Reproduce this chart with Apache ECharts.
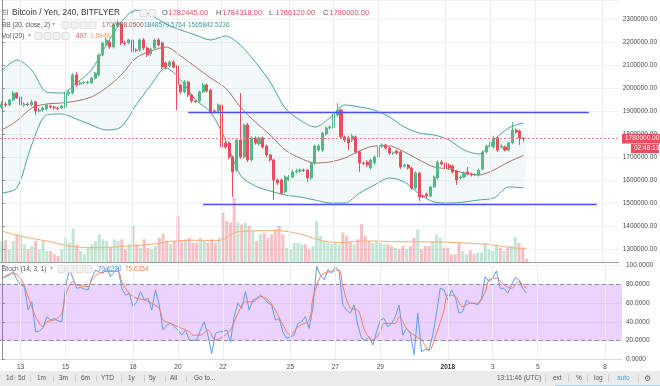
<!DOCTYPE html>
<html>
<head>
<meta charset="utf-8">
<script src="https://cdn.jsdelivr.net/npm/echarts@6/dist/echarts.min.js"></script>
<style>
html,body{margin:0;padding:0;background:#ffffff;}
#chart{width:660px;height:386px;}
</style>
</head>
<body>
<div id="chart"></div>
<script>
// ===== DATA (prices in thousands of JPY, 240-minute candles from 12 Dec 2017 04:00) =====
const CATEGORY_COUNT = 166;
const opens = [1917,1930,1926,1948,1978,1961,1926,1930,1926,1939,
1900,1904,1909,1922,1917,1913,1913,1917,1974,1978,
2057,2017,2022,2022,2022,2043,2057,2143,2187,2200,
2178,2270,2278,2196,2196,2209,2165,2165,2209,2174,
2148,2174,2209,2196,2109,2096,2113,2096,2013,1983,
2026,1970,1943,1943,1983,2013,1991,1900,1900,1926,
1761,1761,1700,1643,1774,1700,1839,1687,1783,1757,
1783,1748,1709,1687,1600,1600,1548,1600,1613,1635,
1639,1643,1643,1609,1674,1730,1730,1800,1826,1826,
1883,1904,1787,1783,1774,1787,1722,1674,1678,1652,
1674,1700,1748,1752,1739,1717,1726,1722,1661,1665,
1652,1565,1630,1530,1539,1530,1570,1609,1678,1674,
1665,1661,1639,1609,1613,1635,1626,1622,1622,1648,
1722,1748,1743,1783,1743,1743,1730,1761,1817,1813,
1782.445];
const closes = [1930,1926,1948,1978,1957,1926,1930,1928,1939,1900,
1904,1913,1926,1917,1913,1911,1922,1978,1983,2057,
2013,2022,2024,2026,2043,2065,2143,2196,2209,2178,
2274,2283,2196,2193,2209,2157,2164,2209,2174,2143,
2170,2209,2187,2091,2091,2113,2091,2013,1983,2026,
1970,1943,1941,1983,2013,1987,1896,1899,1926,1743,
1743,1700,1635,1774,1700,1839,1687,1783,1761,1783,
1743,1709,1687,1600,1587,1543,1613,1613,1635,1639,
1643,1641,1609,1674,1748,1748,1804,1826,1830,1887,
1904,1787,1774,1761,1791,1722,1674,1672,1665,1687,
1700,1743,1752,1739,1717,1718,1717,1657,1665,1652,
1565,1630,1526,1529,1530,1570,1613,1678,1670,1652,
1652,1635,1600,1613,1630,1626,1622,1624,1643,1722,
1748,1761,1783,1730,1748,1730,1761,1817,1809,1783,
1780.000];
const lows = [1909,1917,1921,1943,1952,1870,1917,1921,1920,1883,
1893,1898,1902,1911,1906,1904,1907,1911,1965,1972,
2006,2010,2015,2016,2017,2037,2050,2138,2180,2170,
2172,2262,2187,2185,2190,2022,2155,2158,2165,2135,
2140,2168,2180,2084,2082,2089,2085,1904,1975,1976,
1961,1935,1935,1937,1978,1980,1889,1891,1893,1613,
1735,1690,1526,1635,1692,1693,1678,1680,1754,1750,
1737,1700,1680,1513,1578,1535,1540,1595,1607,1628,
1632,1635,1591,1600,1667,1724,1722,1793,1820,1820,
1876,1780,1765,1730,1765,1715,1635,1665,1656,1645,
1667,1693,1740,1732,1710,1709,1710,1648,1654,1645,
1557,1558,1509,1522,1522,1524,1565,1602,1663,1645,
1646,1628,1578,1602,1607,1620,1615,1616,1615,1641,
1715,1741,1737,1722,1736,1724,1724,1755,1802,1752,
1766.120];
const highs = [1943,1939,1952,1987,1983,1965,1939,1937,1948,1945,
1913,1920,1932,1928,1922,1919,1926,1983,1991,2065,
2070,2030,2030,2032,2048,2070,2150,2202,2218,2210,
2282,2296,2287,2205,2215,2215,2172,2215,2217,2180,
2176,2215,2217,2202,2115,2120,2120,2100,2017,2035,
2032,1974,1950,1989,2022,2020,1997,1907,1932,1932,
1770,1767,1706,1780,1978,1845,1848,1790,1790,1789,
1790,1754,1713,1692,1606,1606,1620,1622,1645,1648,
1650,1650,1648,1680,1754,1757,1810,1833,1839,1895,
1935,1911,1793,1790,1800,1793,1728,1680,1685,1693,
1706,1750,1760,1758,1745,1724,1732,1728,1672,1670,
1657,1637,1635,1537,1545,1576,1620,1685,1687,1680,
1672,1667,1645,1620,1637,1657,1632,1630,1650,1728,
1754,1767,1791,1789,1755,1750,1767,1852,1824,1819,
1784.318];
const volumes = [2940,3040,1780,2940,3880,3880,2480,1780,2240,2940,
1780,2940,1540,1540,1080,840,1780,3400,2700,4660,
2480,1540,1080,2000,2480,2940,3880,3180,2940,2000,
3180,2940,3180,1780,2480,5040,2480,2000,3180,2000,
1780,2240,3400,3960,2940,2480,2940,6440,2940,3180,
3400,2700,2700,3400,2940,2700,3180,2700,3400,6900,
5740,5500,9000,5500,5280,5500,5040,4340,2940,3880,
4100,3400,3880,4580,5040,3880,2000,1780,2700,2700,
2480,2480,1780,2240,5740,3640,2940,2700,2480,2700,
2480,4100,3640,2940,2480,3180,5280,3640,2940,2700,
2940,2700,2480,2480,2240,2000,1780,2240,1780,2240,
3400,4580,1780,2240,2240,2940,3880,3400,2000,2000,
1080,1080,2700,1540,1080,1640,1080,1300,1300,2700,
1780,1540,2240,2000,1540,2000,2240,3500,2700,2000,
497];
const volMAIdx = [0,6,12,18,25,34,40,46,53,58,62,66,73,80,84,90,97,106,117,122,129,133,137,140];
const volMAVal = [4340,3500,2940,2240,2000,2240,2480,2940,3040,3000,4100,4340,4400,3880,3180,2700,2940,2850,2800,2700,2480,2240,1950,1894];

const bbIdx = [0,4,8,12,16,20,24,28,32,36,40,44,48,52,56,60,64,68,72,76,80,84,88,92,96,100,104,108,112,116,120,124,128,132,136,140];
const bbUpper = [2073.9,2121.7,2078.2,1982.6,1978.2,2021.7,2078.2,2186.9,2286.9,2339.1,2317.4,2278.2,2252.2,2230.4,2208.7,2226.1,2186.9,2113.0,2026.1,1913.0,1860.8,1830.4,1869.5,1926.1,1917.4,1904.3,1873.9,1830.4,1804.3,1795.6,1773.9,1730.4,1713.0,1773.9,1826.1,1848.5796];
const bbMiddle = [1817.4,1856.5,1913.0,1930.4,1934.8,1943.5,1960.9,2000.0,2056.5,2130.4,2160.9,2178.2,2139.1,2091.3,2043.5,2000.0,1917.4,1852.1,1795.6,1730.4,1695.6,1673.9,1678.2,1695.6,1726.1,1747.8,1747.8,1721.7,1686.9,1656.5,1647.8,1630.4,1621.7,1643.4,1678.2,1707.2081];
const bbLower = [1543.4,1565.2,1752.1,1882.6,1887.0,1865.2,1839.1,1817.4,1830.4,1926.1,2013.0,2086.9,2034.8,1947.8,1895.6,1773.9,1621.7,1573.9,1552.1,1534.7,1526.0,1513.0,1499.9,1499.9,1543.4,1578.2,1608.7,1591.3,1539.1,1504.3,1499.9,1504.3,1513.0,1521.7,1569.5,1565.8425];

const stochK = [86.5,88,90,93.6,85,79.4,77.6,52.6,61.5,29.5,
30.2,33.8,45.5,42.0,43.7,41.0,40.2,77.6,95.4,86.5,
75.8,76.5,75.0,74.0,86.5,95.4,93.0,91.8,97.2,88.3,
93.0,97.2,75.8,68.7,70.4,56.2,61.5,72.2,63.3,65.1,
52.6,74.0,58.0,31.3,36.6,38.4,35.0,31.3,25.9,31.3,
20.6,20.6,20.6,31.3,40.2,25.9,6.3,27.7,29.5,30.0,
31.3,18.8,45.5,59.8,54.4,72.2,52.6,63.3,65.1,68.7,
65.1,60.0,58.0,42.0,43.7,29.5,22.4,24.0,25.9,38.4,
40.2,45.5,33.1,54.4,98.9,90.0,84.7,95.4,91.8,98.9,
93.6,58.0,52.6,49.1,58.0,36.6,22.4,20.6,24.2,15.3,
29.5,42.0,43.7,34.8,38.4,45.5,58.0,25.9,33.1,27.7,
5.3,49.1,8.1,11.0,9.9,25.9,49.1,75.8,74.0,63.3,
74.0,66.9,49.1,50.9,63.3,59.8,59.8,58.0,65.1,88.3,
82.9,86.5,94.3,75.8,75.8,70.4,79.4,87.2,84.7,75.8,
70.627];
const stochDIdx = [0,3,5,7,9,11,12,14,16,17,19,20,23,24,26,28,31,32,34,36,38,40,42,43,45,47,50,51,53,55,57,59,61,63,65,67,69,71,73,75,77,79,82,83,85,86,88,90,91,93,95,97,99,101,102,105,106,108,110,112,114,116,118,119,121,123,125,127,129,130,132,134,136,138,140];
const stochDVal = [86.5,91.8,86.5,66.9,45.5,34.8,40.2,42.0,49.1,68.7,82.9,79.4,77.6,84.7,91.8,93.6,93.6,82.9,70.4,65.1,63.3,59.8,54.4,42.0,38.4,34.8,29.5,25.9,25.9,31.3,20.6,24.2,31.3,49.1,61.5,61.5,66.9,63.3,52.6,36.6,25.9,34.8,42.0,65.1,88.3,91.8,93.6,95.4,77.6,54.4,52.6,29.5,20.6,29.5,38.4,38.4,45.5,33.1,25.9,20.6,9.9,27.7,52.6,68.7,66.9,56.2,59.8,59.8,72.2,84.7,86.5,79.4,75.8,82.9,75.6354];

const dayTickIndex = [5,17,35,47,59,77,89,101,119,131,143,161];
const dayTickLabels = ['13','15','18','20','22','25','27','29','2018','3','5','8'];
const levelPrices = [1894, 1494];
const levelFrom = [50, 54];
const levelTo = [157.5, 159.6];
const lastPrice = 1780;
const countdownText = '02:48:13';

// ===== CHART =====
const FONT = '"Liberation Sans", Arial, sans-serif';
const UP = '#53b987', DOWN = '#eb4d5c';
const GL = -2, GR = 38;
const cats = Array.from({length: CATEGORY_COUNT}, (_, i) => String(i));
const pairs = (idx, vals) => idx.map((x, k) => [x, vals[k]]);
const candleData = opens.map((o, i) => [o, closes[i], lows[i], highs[i]]);
const volData = volumes.map((v, i) => ({
  value: v,
  itemStyle: {color: closes[i] >= opens[i] ? 'rgba(83,185,135,0.36)' : 'rgba(235,77,92,0.36)'}
}));
const vGrid = dayTickIndex.map(x => ({xAxis: x}));
const valX = (grid) => ({type: 'value', gridIndex: grid, min: -0.5, max: CATEGORY_COUNT - 0.5, show: false});

const chart = echarts.init(document.getElementById('chart'));
const option = {
  animation: false,
  backgroundColor: '#ffffff',
  textStyle: {fontFamily: FONT},
  grid: [
    {left: GL, right: GR, top: 0, height: 262},
    {left: GL, right: GR, top: 162, height: 100},
    {left: GL, right: GR, top: 265.5, height: 94}
  ],
  xAxis: [
    {type: 'category', gridIndex: 0, data: cats, axisLabel: {show: false}, axisTick: {show: false},
     axisLine: {show: true, lineStyle: {color: '#9a9da6', width: 1}}, splitLine: {show: false}},
    valX(0),
    {type: 'category', gridIndex: 1, data: cats, show: false},
    valX(1),
    {type: 'category', gridIndex: 2, data: cats,
     axisTick: {show: false},
     axisLine: {show: true, lineStyle: {color: '#d6d9de'}},
     splitLine: {show: false},
     axisLabel: {
       show: true, margin: 4, fontSize: 6.5, color: '#4a4a4a', fontFamily: FONT,
       interval: (index) => dayTickIndex.indexOf(index) >= 0,
       formatter: (value, index) => {
         const k = dayTickIndex.indexOf(index);
         if (k < 0) return '';
         return dayTickLabels[k] === '2018' ? '{b|2018}' : dayTickLabels[k];
       },
       rich: {b: {fontWeight: 'bold', fontSize: 6.5, color: '#333', fontFamily: FONT}}
     }},
    valX(2)
  ],
  yAxis: [
    {type: 'value', gridIndex: 0, position: 'right', min: 1243.4, max: 2382.6, splitNumber: 11,
     axisLine: {show: true, lineStyle: {color: '#8d9099'}},
     axisTick: {show: true, length: 3, lineStyle: {color: '#8d9099'}},
     splitLine: {show: true, lineStyle: {color: '#eef1f6'}},
     axisLabel: {show: true, showMinLabel: false, showMaxLabel: false, margin: 4, fontSize: 6.5, color: '#4a4a4a', fontFamily: FONT,
       formatter: v => (v * 1000).toFixed(2)}},
    {type: 'value', gridIndex: 1, min: 0, max: 14000, show: false},
    {type: 'value', gridIndex: 2, position: 'right', min: 0, max: 100, interval: 20,
     axisLine: {show: true, lineStyle: {color: '#8d9099'}},
     axisTick: {show: true, length: 3, lineStyle: {color: '#8d9099'}},
     splitLine: {show: true, lineStyle: {color: '#eef1f6'}},
     axisLabel: {show: true, margin: 4, fontSize: 6.5, color: '#4a4a4a', fontFamily: FONT,
       formatter: v => v.toFixed(4)}}
  ],
  series: [
    {type: 'line', xAxisIndex: 1, yAxisIndex: 0, data: [], z: 0, silent: true,
     markLine: {silent: true, symbol: ['none', 'none'], label: {show: false},
       lineStyle: {color: '#e9eef5', type: 'solid', width: 1}, data: vGrid}},
    {type: 'custom', xAxisIndex: 1, yAxisIndex: 0, data: [0], z: 1, silent: true, clip: true,
     renderItem: (params, api) => {
       const pts = [];
       bbIdx.forEach((x, k) => pts.push(api.coord([x, bbUpper[k]])));
       for (let k = bbIdx.length - 1; k >= 0; k--) pts.push(api.coord([bbIdx[k], bbLower[k]]));
       return {type: 'polygon', shape: {points: pts, smooth: 0.3}, style: {fill: 'rgba(25,135,135,0.05)'}};
     }},
    {type: 'bar', xAxisIndex: 2, yAxisIndex: 1, data: volData, barWidth: '80%', z: 1.5, silent: true},
    {type: 'line', xAxisIndex: 3, yAxisIndex: 1, data: pairs(volMAIdx, volMAVal), smooth: 0.4, symbol: 'none',
     lineStyle: {color: '#f9ad72', width: 1}, z: 2, silent: true},
    {type: 'line', xAxisIndex: 1, yAxisIndex: 0, data: pairs(bbIdx, bbUpper), smooth: 0.3, symbol: 'none',
     lineStyle: {color: '#4aa3a2', width: 1}, z: 2, silent: true},
    {type: 'line', xAxisIndex: 1, yAxisIndex: 0, data: pairs(bbIdx, bbLower), smooth: 0.3, symbol: 'none',
     lineStyle: {color: '#4aa3a2', width: 1}, z: 2, silent: true},
    {type: 'line', xAxisIndex: 1, yAxisIndex: 0, data: pairs(bbIdx, bbMiddle), smooth: 0.3, symbol: 'none',
     lineStyle: {color: '#a8706b', width: 1}, z: 2, silent: true},
    {type: 'line', xAxisIndex: 1, yAxisIndex: 0, data: [], z: 3, silent: true,
     markLine: {silent: true, symbol: ['none', 'none'], label: {show: false},
       lineStyle: {color: '#4b50f7', type: 'solid', width: 1.3},
       data: levelPrices.map((p, k) => [{coord: [levelFrom[k], p]}, {coord: [levelTo[k], p]}])}},
    {type: 'candlestick', xAxisIndex: 0, yAxisIndex: 0, data: candleData, barWidth: '68%', z: 4, silent: true,
     itemStyle: {color: UP, color0: DOWN, borderColor: UP, borderColor0: DOWN, borderWidth: 1},
     markLine: {silent: true, symbol: ['none', 'none'], label: {show: false},
       lineStyle: {color: '#f07c87', type: [2, 2], width: 1}, data: [{yAxis: lastPrice}]}},
    {type: 'line', xAxisIndex: 5, yAxisIndex: 2, data: [], z: 0, silent: true,
     markLine: {silent: true, symbol: ['none', 'none'], label: {show: false},
       lineStyle: {color: '#e9eef5', type: 'solid', width: 1}, data: vGrid}},
    {type: 'line', xAxisIndex: 5, yAxisIndex: 2, data: [], z: 1, silent: true,
     markArea: {silent: true, itemStyle: {color: 'rgba(153,21,255,0.19)'}, data: [[{yAxis: 20}, {yAxis: 80}]]},
     markLine: {silent: true, symbol: ['none', 'none'], label: {show: false},
       lineStyle: {color: '#8f8f95', type: [4, 3], width: 1}, data: [{yAxis: 80}, {yAxis: 20}]}},
    {type: 'line', xAxisIndex: 4, yAxisIndex: 2, data: stochK, symbol: 'none',
     lineStyle: {color: '#5b9df5', width: 1}, z: 3, silent: true},
    {type: 'line', xAxisIndex: 5, yAxisIndex: 2, data: pairs(stochDIdx, stochDVal), symbol: 'none', smooth: 0.3,
     lineStyle: {color: '#f27d58', width: 1}, z: 3, silent: true}
  ]
};
chart.setOption(option);

function T(x, y, s, color, size, extra) {
  return Object.assign({type: 'text', x: x, y: y, silent: true, z: 100,
    style: Object.assign({text: s, fill: color, fontSize: size, fontFamily: FONT, verticalAlign: 'middle'}, extra || {})});
}
function box(x, y) {
  return {type: 'rect', silent: true, z: 100, shape: {x: x, y: y, width: 7, height: 7, r: 1},
    style: {fill: '#f2f2f2', stroke: '#d8d8d8', lineWidth: 0.8}};
}
const g = [];
g.push(T(2, 13, '⊟', '#777', 8));
g.push(T(12, 13, 'Bitcoin / Yen, 240, BITFLYER', '#333333', 8.3));
g.push(T(131, 12, '▾', '#aaa', 6));
g.push(box(140, 9.5), box(149, 9.5));
const ohlcLbl = ['O', 'H', 'L', 'C'];
const ohlcVal = ['1782445.00', '1784318.00', '1766120.00', '1780000.00'];
const ohlcX = [162, 216, 269, 323];
ohlcLbl.forEach((l, k) => {
  g.push(T(ohlcX[k], 13, l, '#555', 7.5));
  g.push(T(ohlcX[k] + 6.5, 13, ohlcVal[k], DOWN, 7.5));
});
g.push(T(2, 25, 'BB (20, close, 2)', '#555', 6.5));
g.push(T(52, 24, '▾', '#aaa', 5.5));
[62, 71, 80, 89].forEach(x => g.push(box(x, 21.5)));
g.push(T(102, 25, '1707208.0500', '#a0605a', 6.5));
g.push(T(144, 25, '1848579.5764', '#3b9a9a', 6.5));
g.push(T(188, 25, '1565842.5236', '#3b9a9a', 6.5));
g.push(T(2, 36, 'Vol (20)', '#555', 6.5));
g.push(T(28, 35, '▾', '#aaa', 5.5));
[35, 44, 53, 62].forEach(x => g.push(box(x, 32.5)));
g.push(T(76, 36, '497', DOWN, 6.5));
g.push(T(90, 36, '1.894K', '#f7a04e', 6.5));
g.push(T(2, 269, 'Stoch (14, 3, 1)', '#555', 6.5));
g.push(T(50, 268, '▾', '#aaa', 5.5));
[58, 67, 76, 85].forEach(x => g.push(box(x, 265.5)));
g.push(T(98, 269, '70.6270', '#4a90f0', 6.5));
g.push(T(125, 269, '75.6354', '#f58a4b', 6.5));
g.push({type: 'rect', silent: true, z: 90, shape: {x: 0, y: 371, width: 660, height: 15}, style: {fill: '#ebebeb'}});
const tbL = ['1d', '5d', '1m', '3m', '6m', 'YTD', '1y', '5y', 'All', 'Go to...'];
const tbLX = [6, 18, 37, 59, 81, 101, 128, 149, 170, 194];
tbL.forEach((s, k) => g.push(T(tbLX[k], 378.5, s, '#555', 6.5)));
[14.5, 30, 53, 75, 96, 121, 144, 165, 186, 545, 568, 587, 608, 638].forEach(x =>
  g.push({type: 'rect', silent: true, z: 100, shape: {x: x, y: 375, width: 0.8, height: 7}, style: {fill: '#c9c9c9'}}));
g.push(T(497, 378.5, '13:11:46 (UTC)', '#555', 6.5));
g.push(T(553, 378.5, 'ext', '#555', 6.5));
g.push(T(576, 378.5, '%', '#555', 6.5));
g.push(T(594, 378.5, 'log', '#555', 6.5));
g.push(T(617, 378.5, 'auto', '#4aa3df', 6.5));
g.push(T(644, 378.5, '⚙', '#666', 7.5));
g.push({type: 'rect', silent: true, z: 100, shape: {x: 555, y: 385, width: 105, height: 1}, style: {fill: '#9fd0ef'}});
const py = chart.convertToPixel({yAxisIndex: 0}, lastPrice);
g.push({type: 'rect', silent: true, z: 100, shape: {x: 622, y: py - 4.8, width: 38, height: 9.6}, style: {fill: DOWN}});
g.push(T(625, py, (lastPrice * 1000).toFixed(2), '#ffffff', 6.5));
g.push({type: 'rect', silent: true, z: 100, shape: {x: 631, y: py + 5.5, width: 28, height: 9}, style: {fill: DOWN}});
g.push(T(634, py + 10, countdownText, '#ffffff', 6.5));
chart.setOption({graphic: g});
</script>
</body>
</html>
